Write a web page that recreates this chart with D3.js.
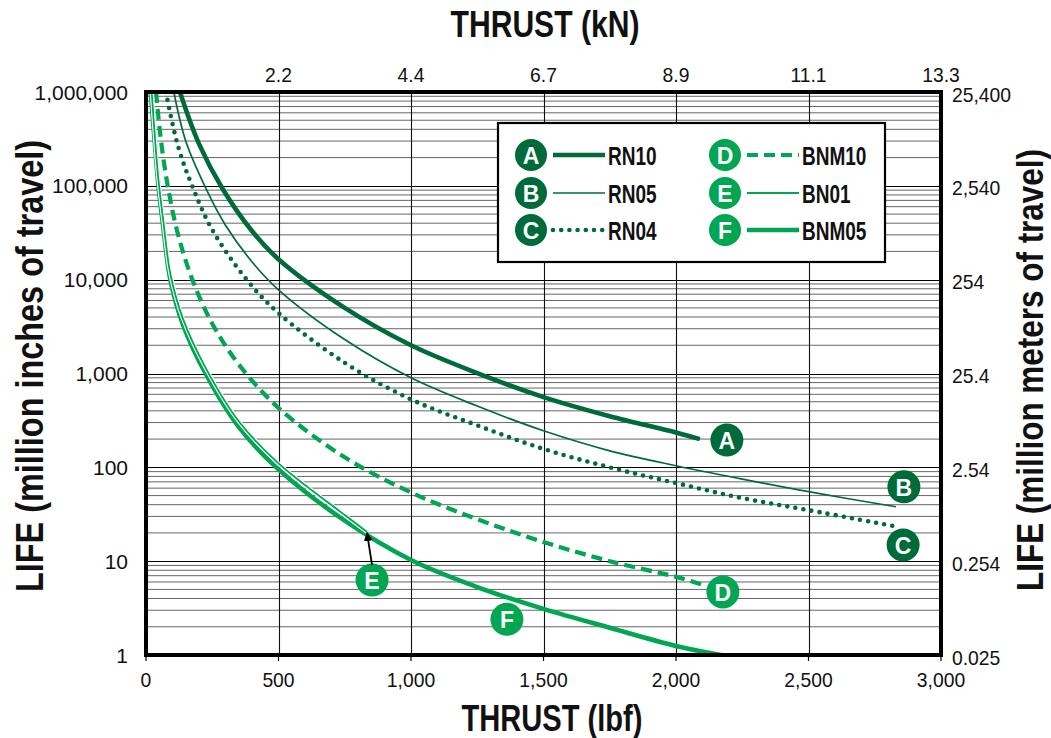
<!DOCTYPE html>
<html>
<head>
<meta charset="utf-8">
<script src="https://cdn.jsdelivr.net/npm/d3@7"></script>
<style>
body { margin: 0; background: #fff; }
text { font-family: "Liberation Sans", Arial, sans-serif; fill: #111; }
</style>
</head>
<body>
<svg id="chart" width="1051" height="738"></svg>
<script>
// axis ticks and labels
const lbfTicks = [0, 500, 1000, 1500, 2000, 2500, 3000];
const lbfLabels = ["0", "500", "1,000", "1,500", "2,000", "2,500", "3,000"];
const knTicks = [500, 1000, 1500, 2000, 2500, 3000]; // kN labels sit on the lbf grid lines
const knLabels = ["2.2", "4.4", "6.7", "8.9", "11.1", "13.3"];
const lifeTicks = [1, 10, 100, 1000, 10000, 100000, 1000000];
const lifeLabels = ["1", "10", "100", "1,000", "10,000", "100,000", "1,000,000"];
const meterLabels = ["0.025", "0.254", "2.54", "25.4", "254", "2,540", "25,400"];

// series, [thrust lbf, life million inches]
const rn10 = [[128,1e6],[200,280000],[290,92000],[400,33000],[500,16500],[750,5000],[1000,2000],[1250,1010],[1500,560],[1750,350],[2000,235],[2090,200]];
const rn05 = [[105,1e6],[150,300000],[225,95000],[300,38000],[400,15500],[500,7800],[750,2300],[1000,900],[1250,450],[1500,245],[1750,150],[2000,104],[2250,75],[2500,55],[2830,38]];
const rn04 = [[75,1e6],[120,270000],[174,100000],[250,34000],[380,10000],[500,4400],[750,1300],[1000,530],[1250,280],[1500,157],[1750,100],[2000,68],[2250,47],[2500,35],[2820,23.7]];
const bnm10 = [[38,1e6],[55,330000],[82,100000],[120,31000],[175,10000],[250,3400],[350,1250],[500,430],[750,128],[1000,54],[1250,28],[1500,16],[1750,10],[2000,6.8],[2100,5.6]];
const bn01 = [[20,1150000],[35,290000],[47,115000],[65,43000],[92,11500],[140,3800],[225,1150],[350,310],[500,110],[750,31],[834,20.5]];
const bnm05 = [[18,1e6],[35,250000],[47,100000],[65,37000],[92,10000],[140,3300],[225,1000],[350,270],[500,95],[750,27],[1000,10.3],[1250,5.3],[1500,3.1],[1750,1.95],[2000,1.25],[2170,1]];

const letters = ["A", "B", "C", "D", "E", "F"];
const names = ["RN10", "RN05", "RN04", "BNM10", "BN01", "BNM05"];
const seriesData = [rn10, rn05, rn04, bnm10, bn01, bnm05];
// letter badge spots near each curve end, [lbf, life]
const badgeSpots = [[2192,195],[2860,62],[2857,14.9],[2177,4.7],[853,6.3],[1362,2.4]];

const dark = "#006b3a", light = "#00a651";
const styles = {
  A: {color: dark, width: 4.6, dash: null},
  B: {color: dark, width: 1.7, dash: null},
  C: {color: dark, width: 4.6, dash: "0 8.2", cap: "round"},
  D: {color: light, width: 4.2, dash: "11 6"},
  E: {color: light, width: 1.8, dash: null, casing: true},
  F: {color: light, width: 4.6, dash: null}
};

// squeeze text to a condensed look
function squeeze(sel, k) {
  sel.each(function () {
    const w = this.getComputedTextLength();
    d3.select(this).attr("textLength", w * k).attr("lengthAdjust", "spacingAndGlyphs");
  });
}

const svg = d3.select("#chart");
const x = d3.scaleLinear().domain([0, 3000]).range([146, 941]);
const y = d3.scaleLog().domain([1, 1e6]).range([655, 92]);

svg.append("defs").append("clipPath").attr("id", "plot")
  .append("rect").attr("x", 146).attr("y", 92).attr("width", 795).attr("height", 563);
svg.select("defs").append("marker")
  .attr("id", "arrow").attr("viewBox", "0 0 10 10").attr("refX", 9).attr("refY", 5)
  .attr("markerWidth", 5).attr("markerHeight", 5).attr("orient", "auto")
  .append("path").attr("d", "M0,0L10,5L0,10z").attr("fill", "#000");

// grid
const grid = svg.append("g");
const minor = [];
for (let d = 1; d < 1e6; d *= 10) for (let k = 2; k <= 9; k++) minor.push(d * k);
grid.selectAll(".minor").data(minor).enter().append("line")
  .attr("x1", 146).attr("x2", 941)
  .attr("y1", d => y(d)).attr("y2", d => y(d))
  .attr("stroke", "#555").attr("stroke-width", 0.9);
grid.selectAll(".major").data(lifeTicks).enter().append("line")
  .attr("x1", 146).attr("x2", 941)
  .attr("y1", d => Math.round(y(d)) + 0.5).attr("y2", d => Math.round(y(d)) + 0.5)
  .attr("stroke", "#000").attr("stroke-width", 1.2);
grid.selectAll(".vert").data(lbfTicks.slice(1, -1)).enter().append("line")
  .attr("x1", d => Math.round(x(d)) + 0.5).attr("x2", d => Math.round(x(d)) + 0.5)
  .attr("y1", 92).attr("y2", 655)
  .attr("stroke", "#111").attr("stroke-width", 1.1);

// curves
const line = d3.line().x(d => x(d[0])).y(d => y(d[1])).curve(d3.curveCatmullRom.alpha(0.5));
const curves = svg.append("g").attr("clip-path", "url(#plot)");
[5, 4, 3, 2, 1, 0].forEach(i => {
  const s = styles[letters[i]];
  if (s.casing) {
    curves.append("path").attr("d", line(seriesData[i]))
      .attr("fill", "none").attr("stroke", "#fff").attr("stroke-width", 4);
  }
  curves.append("path").attr("d", line(seriesData[i]))
    .attr("fill", "none").attr("stroke", s.color).attr("stroke-width", s.width)
    .attr("stroke-dasharray", s.dash).attr("stroke-linecap", s.cap || "butt");
});

// frame
svg.append("rect").attr("x", 146).attr("y", 92).attr("width", 795).attr("height", 563)
  .attr("fill", "none").attr("stroke", "#000").attr("stroke-width", 4);

// legend
const lg = svg.append("g");
lg.append("rect").attr("x", 498).attr("y", 123).attr("width", 387).attr("height", 139)
  .attr("fill", "#fff").attr("stroke", "#000").attr("stroke-width", 2.2);
const rowY = [155, 193, 230];
letters.forEach((k, i) => {
  const col = Math.floor(i / 3), cy = rowY[i % 3];
  const cx = col ? 725 : 531;
  const s = styles[k];
  lg.append("circle").attr("cx", cx).attr("cy", cy).attr("r", 16).attr("fill", s.color);
  lg.append("text").attr("x", cx).attr("y", cy + 1).attr("text-anchor", "middle")
    .attr("dominant-baseline", "central").style("fill", "#fff")
    .attr("font-size", 23).attr("font-weight", "bold").text(k);
  lg.append("line").attr("x1", cx + 22).attr("x2", cx + 74).attr("y1", cy).attr("y2", cy)
    .attr("stroke", s.color).attr("stroke-width", s.width)
    .attr("stroke-dasharray", s.dash).attr("stroke-linecap", s.cap || "butt");
  lg.append("text").attr("x", col ? 802 : 608).attr("y", cy + 1)
    .attr("dominant-baseline", "central").attr("font-size", 25).attr("font-weight", "bold")
    .text(names[i]).call(squeeze, 0.76);
});

// badges on the curves
letters.forEach((k, i) => {
  const [bx, by] = badgeSpots[i];
  svg.append("circle").attr("cx", x(bx)).attr("cy", y(by)).attr("r", 16.5).attr("fill", styles[k].color);
  svg.append("text").attr("x", x(bx)).attr("y", y(by) + 1).attr("text-anchor", "middle")
    .attr("dominant-baseline", "central").style("fill", "#fff")
    .attr("font-size", 23).attr("font-weight", "bold").text(k);
});
// arrow from E badge to the end of BN01
const eEnd = bn01[bn01.length - 1];
svg.append("line")
  .attr("x1", x(badgeSpots[4][0])).attr("y1", y(badgeSpots[4][1]) - 15)
  .attr("x2", x(eEnd[0])).attr("y2", y(eEnd[1]) + 1)
  .attr("stroke", "#000").attr("stroke-width", 1.8).attr("marker-end", "url(#arrow)");

// tick labels
const tickFont = 21;
svg.append("g").selectAll("text").data(lbfTicks).enter().append("text")
  .attr("x", d => x(d)).attr("y", 679).attr("text-anchor", "middle")
  .attr("dominant-baseline", "central").attr("font-size", tickFont)
  .text((d, i) => lbfLabels[i]).call(squeeze, 0.92);
svg.append("g").selectAll("line").data(lbfTicks).enter().append("line")
  .attr("x1", d => x(d)).attr("x2", d => x(d)).attr("y1", 655).attr("y2", 661)
  .attr("stroke", "#000").attr("stroke-width", 1.2);
svg.append("g").selectAll("text").data(knTicks).enter().append("text")
  .attr("x", d => x(d)).attr("y", 74).attr("text-anchor", "middle")
  .attr("dominant-baseline", "central").attr("font-size", tickFont)
  .text((d, i) => knLabels[i]).call(squeeze, 0.92);
svg.append("g").selectAll("text").data(lifeTicks).enter().append("text")
  .attr("x", 128).attr("y", d => y(d)).attr("text-anchor", "end")
  .attr("dominant-baseline", "central").attr("font-size", tickFont)
  .text((d, i) => lifeLabels[i]).call(squeeze, 1.0);
svg.append("g").selectAll("text").data(lifeTicks).enter().append("text")
  .attr("x", 952).attr("y", d => y(d) + 2).attr("text-anchor", "start")
  .attr("dominant-baseline", "central").attr("font-size", tickFont)
  .text((d, i) => meterLabels[i]).call(squeeze, 0.92);

// axis titles
svg.append("text").attr("x", 552).attr("y", 718).attr("text-anchor", "middle")
  .attr("dominant-baseline", "central").attr("font-size", 37).attr("font-weight", "bold")
  .text("THRUST (lbf)").attr("textLength", 181).attr("lengthAdjust", "spacingAndGlyphs");
svg.append("text").attr("x", 545).attr("y", 24).attr("text-anchor", "middle")
  .attr("dominant-baseline", "central").attr("font-size", 37).attr("font-weight", "bold")
  .text("THRUST (kN)").attr("textLength", 189).attr("lengthAdjust", "spacingAndGlyphs");
svg.append("text").attr("transform", "translate(29,366) rotate(-90)").attr("text-anchor", "middle")
  .attr("dominant-baseline", "central").attr("font-size", 39).attr("font-weight", "bold")
  .text("LIFE (million inches of travel)").attr("textLength", 452).attr("lengthAdjust", "spacingAndGlyphs");
svg.append("text").attr("transform", "translate(1030,370) rotate(-90)").attr("text-anchor", "middle")
  .attr("dominant-baseline", "central").attr("font-size", 37).attr("font-weight", "bold")
  .text("LIFE (million meters of travel)").attr("textLength", 442).attr("lengthAdjust", "spacingAndGlyphs");
</script>
</body>
</html>
